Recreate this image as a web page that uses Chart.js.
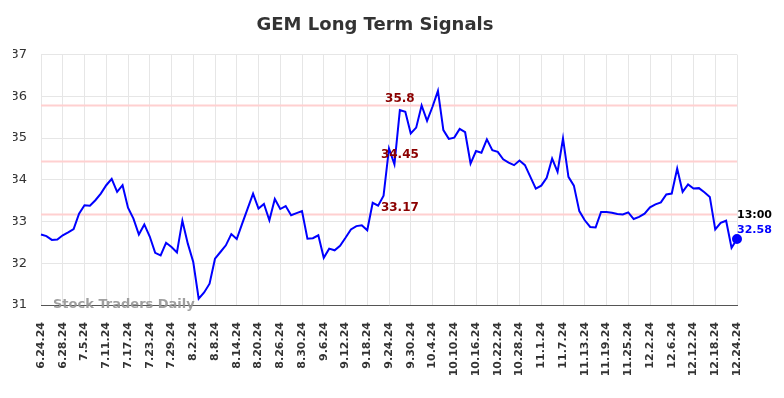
<!DOCTYPE html>
<html>
<head>
<meta charset="utf-8">
<script src="https://cdn.jsdelivr.net/npm/chart.js@4"></script>
<style>
  body { margin: 0; background: #fff; }
  #wrap { width: 784px; height: 398px; }
</style>
</head>
<body>
<div id="wrap"><canvas id="myChart" width="784" height="398"></canvas></div>
<script>
// trading days, 6.24.24 .. 12.24.24
var dates = ('6.24 6.25 6.26 6.27 6.28 ' +
  '7.1 7.2 7.3 7.5 7.8 7.9 7.10 7.11 7.12 7.15 7.16 7.17 7.18 7.19 7.22 7.23 7.24 7.25 7.26 7.29 7.30 7.31 ' +
  '8.1 8.2 8.5 8.6 8.7 8.8 8.9 8.12 8.13 8.14 8.15 8.16 8.19 8.20 8.21 8.22 8.23 8.26 8.27 8.28 8.29 8.30 ' +
  '9.3 9.4 9.5 9.6 9.9 9.10 9.11 9.12 9.13 9.16 9.17 9.18 9.19 9.20 9.23 9.24 9.25 9.26 9.27 9.30 ' +
  '10.1 10.2 10.3 10.4 10.7 10.8 10.9 10.10 10.11 10.14 10.15 10.16 10.17 10.18 10.21 10.22 10.23 10.24 10.25 10.28 10.29 10.30 10.31 ' +
  '11.1 11.4 11.5 11.6 11.7 11.8 11.11 11.12 11.13 11.14 11.15 11.18 11.19 11.20 11.21 11.22 11.25 11.26 11.27 11.29 ' +
  '12.2 12.3 12.4 12.5 12.6 12.9 12.10 12.11 12.12 12.13 12.16 12.17 12.18 12.19 12.20 12.23 12.24')
  .split(' ').map(function (d) { return d + '.24'; });

var prices = [
  32.69, 32.65, 32.56, 32.57, 32.67, 32.74, 32.82, 33.19, 33.39, 33.38,
  33.51, 33.67, 33.87, 34.02, 33.71, 33.87, 33.33, 33.07, 32.69, 32.93,
  32.64, 32.25, 32.19, 32.49, 32.39, 32.26, 33.02, 32.47, 32.03, 31.15,
  31.30, 31.51, 32.11, 32.27, 32.43, 32.70, 32.58, 32.95, 33.31, 33.67,
  33.31, 33.42, 33.03, 33.54, 33.30, 33.37, 33.15, 33.20, 33.25, 32.59,
  32.60, 32.67, 32.13, 32.35, 32.31, 32.42, 32.61, 32.81, 32.89, 32.91,
  32.79, 33.45, 33.38, 33.62, 34.75, 34.37, 35.67, 35.63, 35.11, 35.25,
  35.78, 35.41, 35.75, 36.13, 35.19, 34.98, 35.01, 35.22, 35.14, 34.39,
  34.69, 34.65, 34.97, 34.71, 34.67, 34.49, 34.41, 34.35, 34.46, 34.35,
  34.07, 33.79, 33.86, 34.05, 34.51, 34.19, 34.99, 34.07, 33.86, 33.25,
  33.03, 32.87, 32.86, 33.23, 33.23, 33.21, 33.18, 33.17, 33.22, 33.06,
  33.11, 33.19, 33.34, 33.41, 33.46, 33.65, 33.67, 34.27, 33.71, 33.89,
  33.79, 33.80, 33.70, 33.59, 32.81, 32.97, 33.02, 32.37, 32.58
];

var signalLevels = [35.8, 34.45, 33.17];
var signalLabelAt = 66;   // index where the level labels sit
var lastTime = '13:00';
var yMin = 31, yMax = 37;

var lastIdx = prices.length - 1;

var signalsPlugin = {
  id: 'signals',
  beforeDatasetsDraw: function (chart) {
    var ctx = chart.ctx, area = chart.chartArea, y = chart.scales.y;
    ctx.save();
    ctx.strokeStyle = '#ffd0d0';
    ctx.lineWidth = 2;
    signalLevels.forEach(function (v) {
      var py = Math.round(y.getPixelForValue(v)) + 0.5;
      ctx.beginPath();
      ctx.moveTo(area.left, py);
      ctx.lineTo(area.right, py);
      ctx.stroke();
    });
    ctx.restore();
  },
  afterDatasetsDraw: function (chart) {
    var ctx = chart.ctx, x = chart.scales.x, y = chart.scales.y, area = chart.chartArea;
    ctx.save();
    // level labels
    ctx.font = 'bold 12px "DejaVu Sans"';
    ctx.fillStyle = '#8b0000';
    ctx.textAlign = 'center';
    ctx.textBaseline = 'alphabetic';
    signalLevels.forEach(function (v) {
      ctx.fillText(String(v), x.getPixelForValue(signalLabelAt), y.getPixelForValue(v) - 3);
    });
    // watermark
    ctx.font = 'bold 13px "DejaVu Sans"';
    ctx.fillStyle = 'rgba(150,150,150,0.9)';
    ctx.textAlign = 'left';
    ctx.textBaseline = 'middle';
    ctx.fillText('Stock Traders Daily', area.left + 12, area.bottom);
    // last value
    var px = x.getPixelForValue(lastIdx), py = y.getPixelForValue(prices[lastIdx]);
    ctx.font = 'bold 11px "DejaVu Sans"';
    ctx.textBaseline = 'alphabetic';
    ctx.fillStyle = '#000';
    ctx.fillText(lastTime, px, py - 21);
    ctx.fillStyle = '#0000ff';
    ctx.fillText(prices[lastIdx].toFixed(2), px, py - 6);
    ctx.restore();
  }
};

var mychart = document.getElementById('myChart').getContext('2d');
var gemChart = new Chart(mychart, {
  type: 'line',
  data: {
    labels: dates,
    datasets: [{
      label: 'GEM',
      data: prices,
      borderColor: '#0000ff',
      backgroundColor: '#0000ff',
      borderWidth: 2,
      tension: 0,
      pointRadius: function (c) { return c.dataIndex === lastIdx ? 4 : 0; },
      pointHoverRadius: 0
    }]
  },
  options: {
    responsive: false,
    animation: false,
    layout: { padding: { left: 13, right: 47, top: 0, bottom: 0 } },
    plugins: {
      legend: { display: false },
      tooltip: { enabled: false },
      title: {
        display: true,
        text: 'GEM Long Term Signals',
        color: '#333',
        font: { family: 'DejaVu Sans', size: 18, weight: 'bold' },
        padding: { top: 15, bottom: 18 }
      }
    },
    scales: {
      x: {
        grid: { color: '#e6e6e6', drawTicks: false },
        border: { color: '#555', width: 1 },
        afterFit: function (s) { s.height = 93; },
        ticks: {
          autoSkip: false,
          maxRotation: 90,
          minRotation: 90,
          padding: 17,
          color: '#333',
          font: { family: 'DejaVu Sans', size: 11, weight: 'bold' },
          callback: function (v, i) { return i % 4 === 0 ? dates[i] : null; }
        }
      },
      y: {
        min: yMin,
        max: yMax,
        grid: { color: '#e6e6e6', drawTicks: false },
        border: { display: false },
        afterFit: function (s) { s.width = 28; },
        ticks: {
          stepSize: 1,
          padding: 14,
          color: '#333',
          font: { family: 'DejaVu Sans', size: 13 }
        }
      }
    }
  },
  plugins: [signalsPlugin]
});
</script>
</body>
</html>
